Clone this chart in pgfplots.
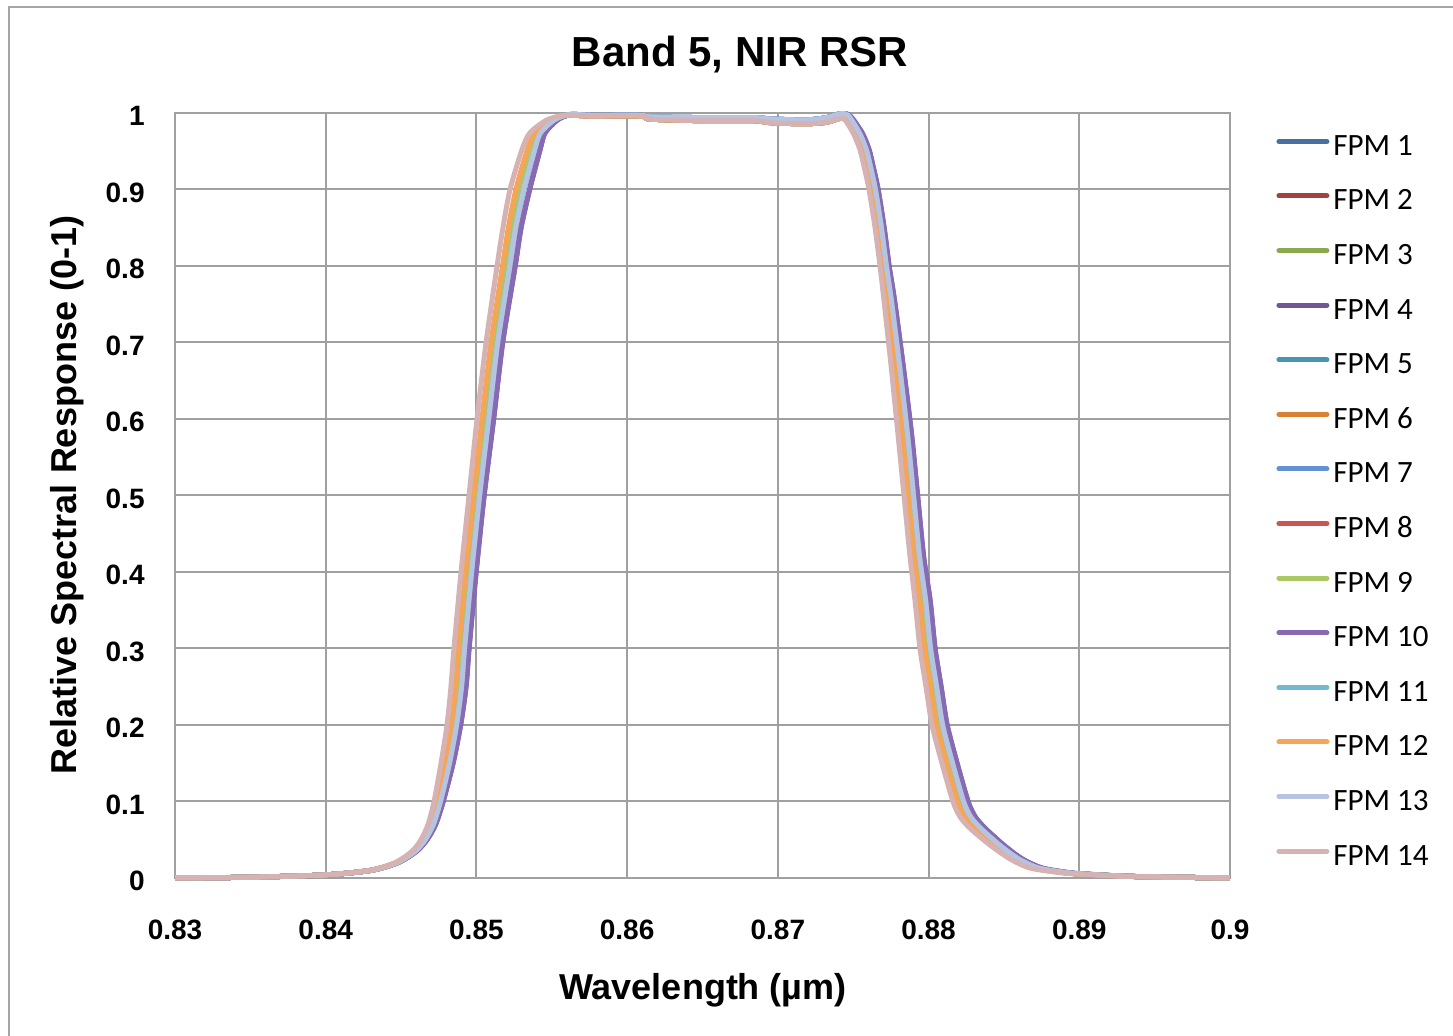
\documentclass[border=0pt]{standalone}
\usepackage{pgfplots}
\usepackage{pgfplotstable}
\pgfplotsset{compat=1.18}
\usepackage{fontspec}
\setmainfont{Liberation Sans}
\newfontfamily\legendfont{Carlito}

\definecolor{framegray}{RGB}{165,165,165}
\definecolor{gridgray}{RGB}{160,160,160}
\definecolor{fpmA}{RGB}{72,111,163}
\definecolor{fpmB}{RGB}{160,67,63}
\definecolor{fpmC}{RGB}{139,168,78}
\definecolor{fpmD}{RGB}{110,88,148}
\definecolor{fpmE}{RGB}{70,150,175}
\definecolor{fpmF}{RGB}{217,130,55}
\definecolor{fpmG}{RGB}{100,145,210}
\definecolor{fpmH}{RGB}{205,85,80}
\definecolor{fpmI}{RGB}{170,200,100}
\definecolor{fpmJ}{RGB}{135,105,180}
\definecolor{fpmK}{RGB}{115,185,210}
\definecolor{fpmL}{RGB}{245,165,85}
\definecolor{fpmM}{RGB}{182,196,225}
\definecolor{fpmN}{RGB}{215,178,178}

% wavelength columns for the slightly shifted groups of detectors, shared response columns
\pgfplotstableread{
xa      xb      xc      xd      xe      ya    yb
0.83000 0.83000 0.83000 0.83000 0.83000 0.000 0.000
0.83498 0.83498 0.83498 0.83498 0.83498 0.001 0.001
0.83995 0.83995 0.83995 0.83995 0.83995 0.004 0.004
0.84294 0.84297 0.84299 0.84301 0.84304 0.010 0.010
0.84460 0.84466 0.84470 0.84474 0.84480 0.020 0.020
0.84573 0.84582 0.84588 0.84594 0.84603 0.035 0.035
0.84632 0.84644 0.84652 0.84660 0.84672 0.050 0.050
0.84679 0.84694 0.84704 0.84714 0.84729 0.070 0.070
0.84719 0.84737 0.84749 0.84761 0.84779 0.100 0.100
0.84765 0.84789 0.84805 0.84821 0.84845 0.150 0.150
0.84805 0.84832 0.84850 0.84868 0.84895 0.200 0.200
0.84831 0.84861 0.84881 0.84901 0.84931 0.250 0.250
0.84851 0.84881 0.84901 0.84921 0.84951 0.300 0.300
0.84898 0.84928 0.84948 0.84968 0.84998 0.400 0.400
0.84951 0.84981 0.85001 0.85021 0.85051 0.500 0.500
0.85004 0.85037 0.85059 0.85081 0.85114 0.600 0.600
0.85064 0.85097 0.85119 0.85141 0.85174 0.700 0.700
0.85137 0.85173 0.85197 0.85221 0.85257 0.800 0.800
0.85176 0.85212 0.85236 0.85260 0.85296 0.850 0.850
0.85223 0.85262 0.85288 0.85314 0.85353 0.900 0.900
0.85302 0.85338 0.85362 0.85386 0.85422 0.952 0.952
0.85355 0.85385 0.85405 0.85425 0.85455 0.974 0.974
0.85468 0.85489 0.85503 0.85517 0.85538 0.991 0.991
0.85588 0.85600 0.85608 0.85616 0.85628 0.997 0.998
0.85754 0.85760 0.85764 0.85768 0.85774 0.996 0.997
0.86085 0.86085 0.86085 0.86085 0.86085 0.996 0.997
0.86152 0.86152 0.86152 0.86152 0.86152 0.992 0.995
0.86483 0.86483 0.86483 0.86483 0.86483 0.990 0.994
0.86835 0.86835 0.86835 0.86835 0.86835 0.990 0.994
0.86968 0.86968 0.86968 0.86968 0.86968 0.987 0.992
0.87193 0.87193 0.87193 0.87193 0.87193 0.986 0.991
0.87326 0.87326 0.87326 0.87326 0.87326 0.988 0.994
0.87412 0.87412 0.87412 0.87412 0.87412 0.993 0.999
0.87445 0.87454 0.87460 0.87466 0.87475 0.991 0.997
0.87499 0.87517 0.87529 0.87541 0.87559 0.974 0.974
0.87545 0.87563 0.87575 0.87587 0.87605 0.952 0.952
0.87572 0.87590 0.87602 0.87614 0.87632 0.930 0.930
0.87605 0.87623 0.87635 0.87647 0.87665 0.900 0.900
0.87645 0.87663 0.87675 0.87687 0.87705 0.850 0.850
0.87678 0.87696 0.87708 0.87720 0.87738 0.800 0.800
0.87704 0.87725 0.87739 0.87753 0.87774 0.755 0.755
0.87751 0.87775 0.87791 0.87807 0.87831 0.670 0.670
0.87797 0.87824 0.87842 0.87860 0.87887 0.580 0.580
0.87837 0.87864 0.87882 0.87900 0.87927 0.500 0.500
0.87877 0.87904 0.87922 0.87940 0.87967 0.420 0.420
0.87910 0.87940 0.87960 0.87980 0.88010 0.363 0.363
0.87943 0.87973 0.87993 0.88013 0.88043 0.300 0.300
0.87983 0.88013 0.88033 0.88053 0.88083 0.250 0.250
0.88023 0.88053 0.88073 0.88093 0.88123 0.200 0.200
0.88089 0.88119 0.88139 0.88159 0.88189 0.150 0.150
0.88162 0.88192 0.88212 0.88232 0.88262 0.100 0.100
0.88209 0.88239 0.88259 0.88279 0.88309 0.080 0.080
0.88275 0.88305 0.88325 0.88345 0.88375 0.065 0.065
0.88408 0.88435 0.88453 0.88471 0.88498 0.043 0.043
0.88540 0.88564 0.88580 0.88596 0.88620 0.025 0.025
0.88673 0.88697 0.88713 0.88729 0.88753 0.013 0.013
0.88872 0.88890 0.88902 0.88914 0.88932 0.007 0.007
0.89005 0.89020 0.89030 0.89040 0.89055 0.005 0.005
0.89336 0.89345 0.89351 0.89357 0.89366 0.002 0.002
0.90000 0.90000 0.90000 0.90000 0.90000 0.000 0.000
}\rsr

\begin{document}
\begin{tikzpicture}
\useasboundingbox (-87.5pt,-79pt) rectangle (639pt,439pt);
\draw[framegray, line width=1.4pt] (-83pt,-85pt) -- (-83pt,435.5pt) -- (645pt,435.5pt);
\begin{axis}[
    at={(0pt,0pt)}, anchor=south west,
    scale only axis,
    width=527.5pt, height=382.5pt,
    xmin=0.83, xmax=0.9, ymin=0, ymax=1,
    xtick={0.83,0.84,0.85,0.86,0.87,0.88,0.89,0.9},
    ytick={0,0.1,0.2,0.3,0.4,0.5,0.6,0.7,0.8,0.9,1},
    /pgf/number format/assume math mode=true,
    tick label style={font=\bfseries\fontsize{14}{14}\selectfont, inner sep=0pt},
    xticklabel style={anchor=north, yshift=-21pt},
    yticklabel style={anchor=east, xshift=-15pt, yshift=-1.5pt},
    major tick length=0pt,
    grid=major,
    grid style={gridgray, line width=1pt},
    axis line style={gridgray, line width=1pt},
    clip=false,
    every axis plot/.append style={line width=2.5pt, line join=round, smooth, tension=0.45},
    legend style={draw=none, fill=none, at={(axis description cs:1,1)}, anchor=north west,
        xshift=23pt, yshift=-10pt, inner sep=0pt, row sep=13.3pt, column sep=2pt,
        font=\legendfont\fontsize{15.5}{15.5}\selectfont,
        nodes={inner sep=0pt, text height=11pt, text depth=3pt, anchor=base west}},
    legend cell align=left,
    legend image code/.code={\draw[#1, line width=2.5pt, line cap=round, sharp plot] (0pt,7pt) -- (24pt,7pt);},
]
\addplot[fpmA] table[x=xc, y=ya] {\rsr}; \addlegendentry{FPM 1}
\addplot[fpmB] table[x=xc, y=ya] {\rsr}; \addlegendentry{FPM 2}
\addplot[fpmC] table[x=xc, y=ya] {\rsr}; \addlegendentry{FPM 3}
\addplot[fpmD] table[x=xe, y=yb] {\rsr}; \addlegendentry{FPM 4}
\addplot[fpmE] table[x=xd, y=yb] {\rsr}; \addlegendentry{FPM 5}
\addplot[fpmF] table[x=xc, y=ya] {\rsr}; \addlegendentry{FPM 6}
\addplot[fpmG] table[x=xd, y=yb] {\rsr}; \addlegendentry{FPM 7}
\addplot[fpmH] table[x=xc, y=ya] {\rsr}; \addlegendentry{FPM 8}
\addplot[fpmI] table[x=xc, y=ya] {\rsr}; \addlegendentry{FPM 9}
\addplot[fpmJ] table[x=xe, y=yb] {\rsr}; \addlegendentry{FPM 10}
\addplot[fpmK] table[x=xd, y=yb] {\rsr}; \addlegendentry{FPM 11}
\addplot[fpmL] table[x=xb, y=ya] {\rsr}; \addlegendentry{FPM 12}
\addplot[fpmM] table[x=xd, y=yb] {\rsr}; \addlegendentry{FPM 13}
\addplot[fpmN] table[x=xa, y=ya] {\rsr}; \addlegendentry{FPM 14}
\end{axis}
\node[font=\bfseries\fontsize{21}{21}\selectfont] at (282.5pt,411.5pt) {Band 5, NIR RSR};
\node[font=\bfseries\fontsize{18}{18}\selectfont, rotate=90] at (-54pt,191.5pt) {Relative Spectral Response (0-1)};
\node[font=\bfseries\fontsize{18}{18}\selectfont] at (264pt,-56pt) {Wavelength (µm)};
\end{tikzpicture}
\end{document}
